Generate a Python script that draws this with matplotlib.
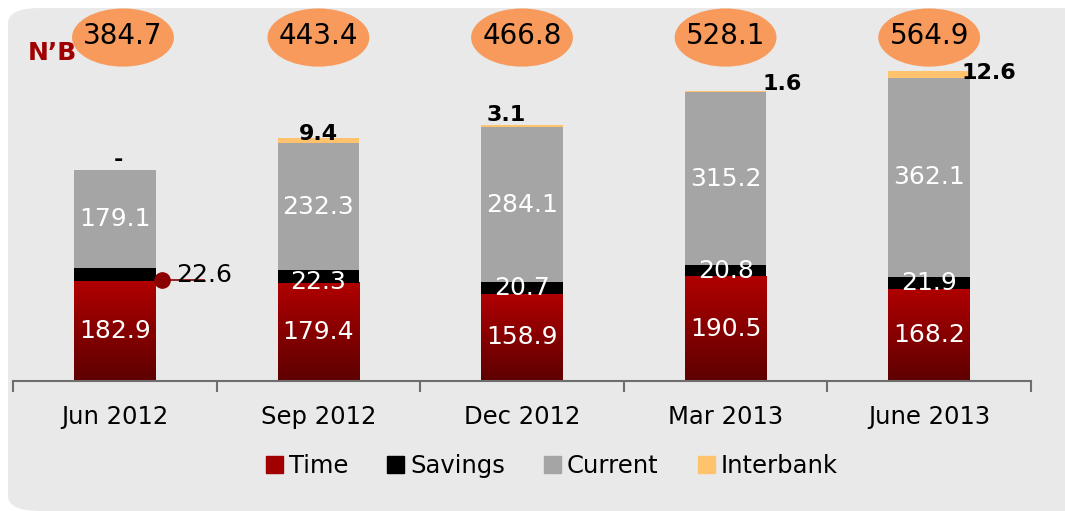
import numpy as np
import matplotlib.pyplot as plt
from matplotlib.patches import Ellipse, FancyBboxPatch
from matplotlib.colors import LinearSegmentedColormap

periods = ['Jun 2012', 'Sep 2012', 'Dec 2012', 'Mar 2013', 'June 2013']
time_dep = [182.9, 179.4, 158.9, 190.5, 168.2]
savings = [22.6, 22.3, 20.7, 20.8, 21.9]
current = [179.1, 232.3, 284.1, 315.2, 362.1]
interbank = [0.0, 9.4, 3.1, 1.6, 12.6]
interbank_labels = ['-', '9.4', '3.1', '1.6', '12.6']
totals = ['384.7', '443.4', '466.8', '528.1', '564.9']

FONT = ['DejaVu Sans']
plt.rcParams['font.family'] = FONT


def main():
    fig = plt.figure(figsize=(10.65, 5.11), dpi=100)
    fig.patch.set_facecolor('white')
    panel = FancyBboxPatch((8 / 1065, 0.0), 1.2, (511 - 8) / 511,
                           boxstyle='round,pad=0,rounding_size=0.03',
                           transform=fig.transFigure, facecolor='#e9e9e9',
                           edgecolor='none', zorder=-10)
    fig.patches.append(panel)

    ax = fig.add_axes([13 / 1065, 130 / 511, (1031 - 13) / 1065, 361 / 511])
    ax.set_facecolor('none')
    x = np.arange(len(periods))
    w = 0.4
    t = np.array(time_dep)
    s = np.array(savings)
    c = np.array(current)
    ib = np.array(interbank)

    # time bars with gradient
    grad = LinearSegmentedColormap.from_list('g', ['#5e0000', '#b00000'])
    for xi, h in zip(x, t):
        ax.imshow(np.linspace(0, 1, 100).reshape(-1, 1), cmap=grad,
                  origin='lower', aspect='auto',
                  extent=[xi - w / 2, xi + w / 2, 0, h], zorder=2)
    ax.bar(x, s, w, bottom=t, color='black', zorder=2)
    ax.bar(x, c, w, bottom=t + s, color='#a5a5a5', zorder=2)
    ax.bar(x, ib, w, bottom=t + s + c, color='#ffc36e', zorder=2)

    ax.set_xlim(-0.5, len(periods) - 0.5)
    ax.set_ylim(0, 658)

    for i in range(len(periods)):
        ax.text(x[i], t[i] / 2, f'{time_dep[i]:.1f}', color='white',
                ha='center', va='center', fontsize=18, zorder=3)
        ax.text(x[i], t[i] + s[i] + c[i] / 2, f'{current[i]:.1f}',
                color='white', ha='center', va='center', fontsize=18, zorder=3)
        if i > 0:
            ax.text(x[i], t[i] + s[i] / 2 - (10 if i == 1 else 0),
                    f'{savings[i]:.1f}', color='white', ha='center',
                    va='center', fontsize=18, zorder=3)
        top = t[i] + s[i] + c[i] + ib[i]
        if i == 0:
            ax.text(x[i] + 0.02, top + 18, interbank_labels[i], ha='center',
                    va='center', fontsize=16, fontweight='bold', zorder=3)
        elif i == 1:
            ax.text(x[i], top + 6, interbank_labels[i], ha='center',
                    va='center', fontsize=16, fontweight='bold', zorder=3)
        elif i == 2:
            ax.text(x[i] - 0.08, top + 18, interbank_labels[i], ha='center',
                    va='center', fontsize=16, fontweight='bold', zorder=3)
        elif i == 3:
            ax.text(x[i] + w / 2 - 0.02, top + 14, interbank_labels[i],
                    ha='left', va='center', fontsize=16, fontweight='bold',
                    zorder=3)
        else:
            ax.text(x[i] + w / 2 - 0.04, top - 4, interbank_labels[i],
                    ha='left', va='center', fontsize=16, fontweight='bold',
                    zorder=3)
        ex = x[i] + (0.04 if i == 0 else 0.0)
        ax.add_patch(Ellipse((ex, 626), 0.5, 106, facecolor='#f79a5b',
                             edgecolor='none', clip_on=False, zorder=4))
        ax.text(ex, 628, totals[i], ha='center', va='center', fontsize=20,
                zorder=5, clip_on=False)

    # Jun 2012 savings callout
    ax.plot([x[0] + 0.23, x[0] + 0.44], [t[0] + 1, t[0] + 1],
            color='#8b0000', lw=1.2, zorder=3)
    ax.plot([x[0] + 0.23], [t[0] + 1], 'o', color='#8b0000', ms=11, zorder=3)
    ax.text(x[0] + 0.3, t[0] + 10, '22.6', ha='left', va='center',
            fontsize=18, zorder=3)

    ax.text(-0.5 + 0.07, 598, 'N\u2019B', color='#a00000', fontsize=18,
            fontweight='bold', ha='left', va='center')

    for sp in ['top', 'right', 'left']:
        ax.spines[sp].set_visible(False)
    ax.spines['bottom'].set_color('#6e6e6e')
    ax.spines['bottom'].set_linewidth(1.5)
    ax.set_yticks([])
    ax.set_xticks(np.arange(-0.5, len(periods)), minor=False)
    ax.set_xticklabels([])
    ax.tick_params(axis='x', which='major', length=8, width=1.5,
                   color='#6e6e6e')
    ax.set_xticks(x, minor=True)
    ax.set_xticklabels(periods, minor=True, fontsize=17.5)
    ax.tick_params(axis='x', which='minor', length=0, pad=17)

    handles = [plt.Rectangle((0, 0), 1, 1, color=col) for col in
               ['#a00000', 'black', '#a5a5a5', '#ffc36e']]
    fig.legend(handles, ['Time', 'Savings', 'Current', 'Interbank'],
               loc='center', bbox_to_anchor=(0.518, (511 - 466) / 511),
               ncol=4, frameon=False, fontsize=17.5, handlelength=0.7,
               handleheight=0.7, handletextpad=0.25, columnspacing=1.6)

    fig.savefig('out.png', dpi=100)


if __name__ == '__main__':
    main()
